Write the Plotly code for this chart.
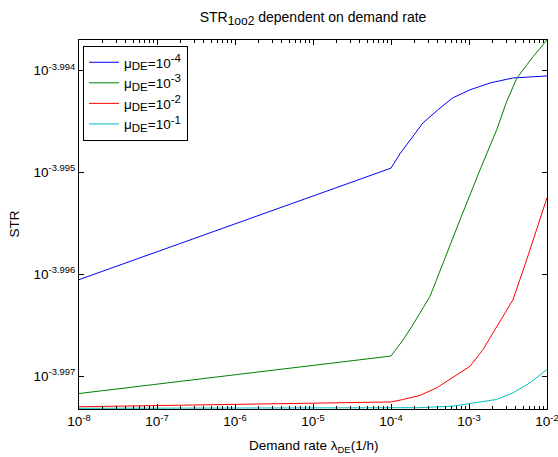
import plotly.graph_objects as go

# Demand rate (1/h) and STR values, both given as base-10 exponents
lam_exp_mu4 = [-8, -7, -6, -5, -4, -3.88, -3.72, -3.59, -3.37, -3.21, -2.99, -2.73, -2.44, -2.0]
str_exp_mu4 = [-3.996054, -3.995779, -3.995505, -3.995230, -3.994959, -3.994812, -3.994649,
               -3.994515, -3.994368, -3.994270, -3.994191, -3.994123, -3.994074, -3.994054]

lam_exp_mu3 = [-8, -7, -6, -5, -4, -3.842, -3.718, -3.5, -3.286, -3.115, -2.859, -2.645,
               -2.517, -2.388, -2.179, -2.0]
str_exp_mu3 = [-3.997172, -3.997079, -3.996988, -3.996897, -3.996804, -3.996642, -3.996495,
               -3.996218, -3.995792, -3.995466, -3.994976, -3.994583, -3.994305, -3.994077,
               -3.993865, -3.993701]

lam_exp_mu2 = [-8, -7, -6, -5, -4, -3.842, -3.628, -3.414, -3.205, -2.987, -2.82, -2.645,
               -2.436, -2.26, -2.218, -2.0]
str_exp_mu2 = [-3.997302, -3.997290, -3.997278, -3.997267, -3.997255, -3.997230, -3.997191,
               -3.997116, -3.997015, -3.996904, -3.996740, -3.996515, -3.996250, -3.995858,
               -3.995760, -3.995250]

lam_exp_mu1 = [-8, -4, -3.628, -3.205, -2.987, -2.645, -2.436, -2.218, -2.0]
str_exp_mu1 = [-3.997317, -3.997314, -3.997311, -3.997296, -3.997272, -3.997230, -3.997165,
               -3.997067, -3.996936]

mu_exps = ["-4", "-3", "-2", "-1"]
series_colors = ["#0000ff", "#008000", "#ff0000", "#00bfbf"]

x_tick_exps = [-8, -7, -6, -5, -4, -3, -2]
y_tick_exps = ["-3.994", "-3.995", "-3.996", "-3.997"]

FONT = "Liberation Sans, Arial, sans-serif"

# plot area in pixels
W, H = 558, 457
L, R, T, B = 79, 547, 40, 409.5
PW, PH = R - L, B - T


def small(txt, px):
    return f"<span style='font-size:{px}px'>{txt}</span>"


series_names = [f"μ<sub>{small('DE', 11.5)}</sub>=10<sup>{small(e, 11.5)}</sup>" for e in mu_exps]

fig = go.Figure()
data = [(lam_exp_mu4, str_exp_mu4), (lam_exp_mu3, str_exp_mu3),
        (lam_exp_mu2, str_exp_mu2), (lam_exp_mu1, str_exp_mu1)]
for (lx, sy), name, color in zip(data, series_names, series_colors):
    fig.add_trace(go.Scatter(
        x=[10 ** v for v in lx],
        y=[10 ** v for v in sy],
        mode="lines",
        name=name,
        line=dict(color=color, width=1),
    ))

minor_x = [m * 10 ** e for e in range(-8, -2) for m in range(2, 10)]

axis_common = dict(
    type="log",
    tickmode="array",
    ticks="inside",
    ticklen=5,
    tickcolor="black",
    showline=True,
    linecolor="black",
    linewidth=1,
    mirror="allticks",
    showgrid=False,
    zeroline=False,
    automargin=False,
    ticklabeloverflow="allow",
    tickfont=dict(family=FONT, size=13.5, color="black"),
)

fig.update_layout(
    width=W,
    height=H,
    margin=dict(l=L, r=W - R, t=T, b=H - B),
    paper_bgcolor="white",
    plot_bgcolor="white",
    font=dict(family=FONT, size=13.5, color="black"),
    title=dict(
        text=f"STR<sub>{small('1oo2', 12)}</sub> dependent on demand rate",
        x=(L + R) / 2 / W, xanchor="center",
        y=1 - 17 / H, yanchor="middle",
        font=dict(family=FONT, size=14, color="black"),
    ),
    showlegend=True,
    legend=dict(
        x=(83 - L) / PW, xanchor="left",
        y=1 - (46 - T) / PH, yanchor="top",
        bgcolor="white",
        bordercolor="black",
        borderwidth=1,
        font=dict(family=FONT, size=13.5, color="black"),
        itemwidth=30,
    ),
    xaxis=dict(
        axis_common,
        range=[-8, -2],
        tickvals=[10 ** e for e in x_tick_exps],
        ticktext=[f"10<sup>{e}</sup>" for e in x_tick_exps],
        minor=dict(tickvals=minor_x, ticks="inside", ticklen=3, tickcolor="black", showgrid=False),
    ),
    yaxis=dict(
        axis_common,
        range=[-3.997324, -3.993701],
        tickvals=[10 ** float(e) for e in y_tick_exps],
        ticktext=[f"10<sup>{e}</sup>" for e in y_tick_exps],
    ),
    annotations=[
        dict(text="Demand rate λ<sub>DE</sub>(1/h)", xref="paper", yref="paper",
             x=0.5, xanchor="center",
             y=(B - 437) / PH, yanchor="top",
             showarrow=False, font=dict(family=FONT, size=13.5, color="black")),
        dict(text="STR", xref="paper", yref="paper",
             x=(14 - L) / PW, xanchor="center",
             y=0.5, yanchor="middle", textangle=-90,
             showarrow=False, font=dict(family=FONT, size=13.5, color="black")),
    ],
)

fig.write_html("out.html")
